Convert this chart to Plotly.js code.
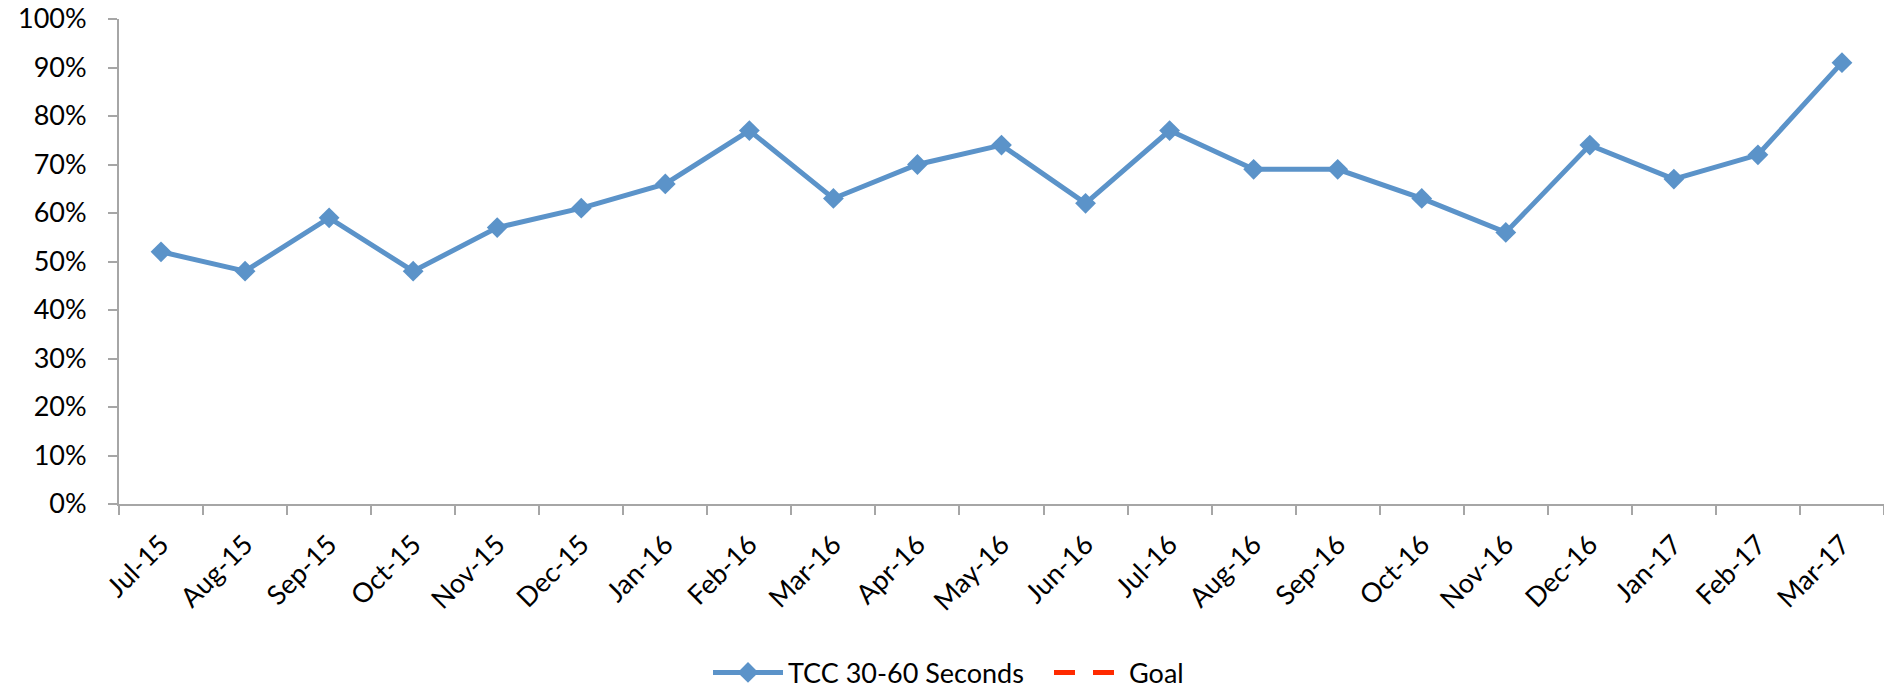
<!DOCTYPE html>
<html>
<head>
<meta charset="utf-8">
<script src="https://cdn.plot.ly/plotly-3.0.1.min.js"></script>
<style>html,body{margin:0;padding:0;background:#fff;}#chart{width:1884px;height:688px;}</style>
</head>
<body>
<div id="chart"></div>
<script>
const months = ["Jul-15","Aug-15","Sep-15","Oct-15","Nov-15","Dec-15","Jan-16","Feb-16","Mar-16","Apr-16","May-16","Jun-16","Jul-16","Aug-16","Sep-16","Oct-16","Nov-16","Dec-16","Jan-17","Feb-17","Mar-17"];
const tccValues = [0.52,0.48,0.59,0.48,0.57,0.61,0.66,0.77,0.63,0.70,0.74,0.62,0.77,0.69,0.69,0.63,0.56,0.74,0.67,0.72,0.91];
const goalValues = [null,null,null,null,null,null,null,null,null,null,null,null,null,null,null,null,null,null,null,null,null];
const yTicks = [0,0.1,0.2,0.3,0.4,0.5,0.6,0.7,0.8,0.9,1.0];
const yTickText = ["0%","10%","20%","30%","40%","50%","60%","70%","80%","90%","100%"];

const FONT = "Lato, 'Open Sans', sans-serif";
const traces = [
  {
    x: months, y: tccValues, name: "TCC 30-60 Seconds", type: "scatter", mode: "lines+markers",
    line: {color: "#5B93C9", width: 5},
    marker: {symbol: "diamond", size: 16, color: "#5B93C9"}
  },
  {
    x: months, y: goalValues, name: "Goal", type: "scatter", mode: "lines",
    line: {color: "#FF2A00", width: 5, dash: "21px,18px"}
  }
];
const layout = {
  width: 1884, height: 688,
  margin: {l: 119, r: 0, t: 19, b: 184},
  paper_bgcolor: "#fff", plot_bgcolor: "#fff",
  font: {family: FONT, size: 27, color: "#000"},
  showlegend: true,
  hovermode: false,
  xaxis: {
    type: "category", categoryorder: "array", categoryarray: months,
    range: [-0.5, months.length - 0.5],
    showgrid: false, zeroline: false,
    showline: true, linecolor: "#A6A6A6", linewidth: 2,
    ticks: "outside", ticklen: 9, tickwidth: 2, tickcolor: "#A6A6A6",
    tickson: "boundaries",
    tickangle: -45, tickfont: {family: FONT, size: 27, color: "#000"},
    ticklabelstandoff: 12
  },
  yaxis: {
    range: [0, 1], tickvals: yTicks, ticktext: yTickText,
    showgrid: false, zeroline: false,
    showline: true, linecolor: "#A6A6A6", linewidth: 2,
    ticks: "outside", ticklen: 9, tickwidth: 2, tickcolor: "#A6A6A6",
    tickfont: {family: FONT, size: 27, color: "#000"},
    ticklabelstandoff: 16
  },
  legend: {
    orientation: "h", xref: "container", yref: "container",
    x: 0.3758, xanchor: "left", y: 0.022, yanchor: "middle",
    font: {family: FONT, size: 27, color: "#000"},
    itemwidth: 70, entrywidth: 256, entrywidthmode: "pixels",
    tracegroupgap: 0, bgcolor: "rgba(0,0,0,0)"
  }
};
Plotly.newPlot("chart", traces, layout, {displayModeBar: false, staticPlot: true});
</script>
</body>
</html>
